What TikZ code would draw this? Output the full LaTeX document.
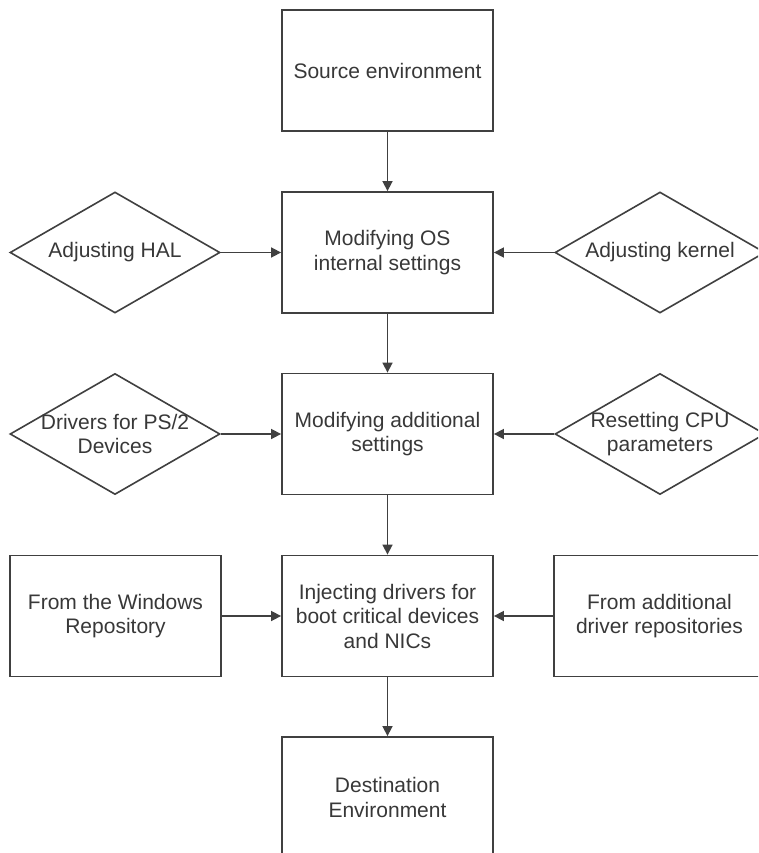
\documentclass[tikz,border=0pt]{standalone}
\usepackage{fontspec}
\setmainfont{Liberation Sans}
\usetikzlibrary{shapes.geometric,arrows.meta}
\definecolor{linec}{HTML}{404040}
\definecolor{textc}{HTML}{383838}
\tikzset{
  box/.style={draw=linec, line width=1.8pt, rectangle, minimum width=211pt, minimum height=121pt, inner sep=0pt, fill=white},
  dia/.style={draw=linec, line width=1.6pt, diamond, minimum width=210pt, minimum height=121pt, inner sep=0pt},
  txt/.style={text=textc, align=center, font=\fontsize{21}{24.5}\selectfont, inner sep=0pt},
  conn/.style={draw=linec, line width=1.6pt, -{Triangle[width=10pt,length=10pt]}}
}
\begin{document}
\begin{tikzpicture}[x=1pt,y=-1pt]
\useasboundingbox (0,0) rectangle (758,853);
\clip (0,0) rectangle (758,853);
\fill[white] (0,0) rectangle (758,853);
% center column
\node[box] (src) at (387.5,70.5) {};
\node[txt] (src-t) at (src) {Source environment};
\node[box] (os) at (387.5,252.5) {};
\node[txt] (os-t) at (os) {Modifying OS\\internal settings};
\node[box] (add) at (387.5,434) {};
\node[txt] (add-t) at (add) {Modifying additional\\settings};
\node[box] (inj) at (387.5,616) {};
\node[txt] (inj-t) at (inj) {Injecting drivers for\\boot critical devices\\and NICs};
\node[box] (dst) at (387.5,797.5) {};
\node[txt] (dst-t) at (dst) {Destination\\Environment};
% left column
\node[dia] (hal) at (115,252.5) {};
\node[txt] (hal-t) at (hal) {Adjusting HAL};
\node[dia] (ps2) at (115,434) {};
\node[txt] (ps2-t) at (ps2) {Drivers for PS/2\\Devices};
\node[box] (win) at (115.5,616) {};
\node[txt] (win-t) at (win) {From the Windows\\Repository};
% right column
\node[dia] (ker) at (660,252.5) {};
\node[txt] (ker-t) at (ker) {Adjusting kernel};
\node[dia] (cpu) at (660,434) {};
\node[txt] (cpu-t) at (cpu) {Resetting CPU\\parameters};
\node[box] (rep) at (659.5,616) {};
\node[txt] (rep-t) at (rep) {From additional\\driver repositories};
% connectors
\draw[conn] (src.south) -- (os.north);
\draw[conn] (os.south) -- (add.north);
\draw[conn] (add.south) -- (inj.north);
\draw[conn] (inj.south) -- (dst.north);
\draw[conn] (hal.east) -- (os.west);
\draw[conn] (ker.west) -- (os.east);
\draw[conn] (ps2.east) -- (add.west);
\draw[conn] (cpu.west) -- (add.east);
\draw[conn] (win.east) -- (inj.west);
\draw[conn] (rep.west) -- (inj.east);
\end{tikzpicture}
\end{document}
